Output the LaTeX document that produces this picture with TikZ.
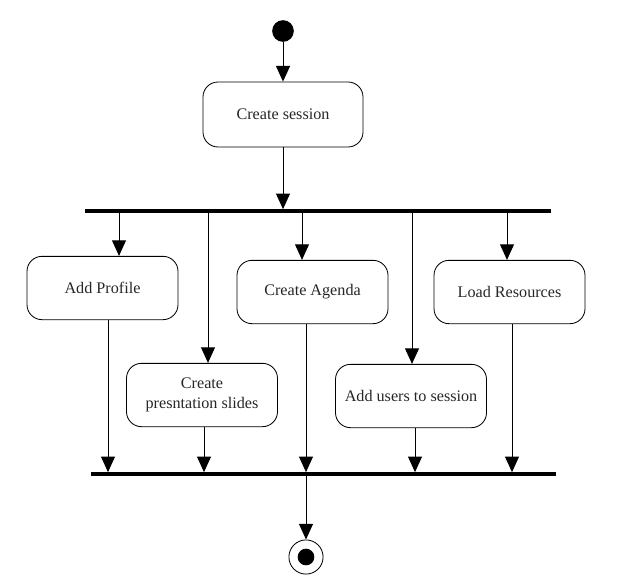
\documentclass[tikz,border=0pt]{standalone}
\usepackage{fontspec}
\setmainfont{Liberation Serif}
\usetikzlibrary{arrows.meta}

\begin{document}
\begin{tikzpicture}[x=0.6pt, y=-0.6pt,
   act_style/.style={rectangle, rounded corners=9pt, draw=black, line width=0.5pt, minimum width=90.6pt, minimum height=38pt, align=center, text=black!85, font=\fontsize{9.7}{12}\selectfont},
   bar_style/.style={draw=black, line width=2.2pt},
   flow_style/.style={draw=black, line width=0.6pt, -{Triangle[length=9.4pt, width=8.4pt]}}]
	\useasboundingbox (0,0) rectangle (629,581);
	\node [circle,fill=black,minimum size=13pt,inner sep=0pt] (start) at (283,31) {};
	\node [act_style,minimum width=96pt,minimum height=39pt] (ses) at (283,114.5) {Create session};
	\node [act_style] (prof) at (102.5,288) {Add Profile};
	\node [act_style] (slides) at (202,395) {Create\\presntation slides};
	\node [act_style] (agenda) at (312.5,292) {Create Agenda};
	\node [act_style] (users) at (411,396) {Add users to session};
	\node [act_style] (load) at (509.5,292) {Load Resources};
	\node [circle,draw=black,line width=0.5pt,minimum size=20.5pt,inner sep=0pt] (end) at (306,557) {};
	\fill [black] (end) circle (5pt);

	\coordinate (fl) at (85,211);
	\coordinate (fr) at (551,211);
	\coordinate (jl) at (91,474);
	\coordinate (jr) at (556,474);
	\coordinate (jend) at (306,474);
	\draw [bar_style] (fl) -- (fr);
	\draw [bar_style] (jl) -- (jr);

	\draw [flow_style] (start) -- (ses);
	\draw [flow_style,shorten >=1.1pt] (ses) -- (ses |- fl);

	\foreach \act/\xin/\xout in {
		prof/119/108,
		slides/208/204,
		agenda/302/306,
		users/412/415,
		load/507/512
		}
	{
	  \coordinate (in\act) at (\xin,211);
	  \coordinate (out\act) at (\xout,474);
	  \draw [flow_style] (in\act) -- (in\act |- \act.north);
	  \draw [flow_style,shorten >=1.1pt] (out\act |- \act.south) -- (out\act);
	}

	\draw [flow_style] (jend) -- (end);
\end{tikzpicture}
\end{document}
